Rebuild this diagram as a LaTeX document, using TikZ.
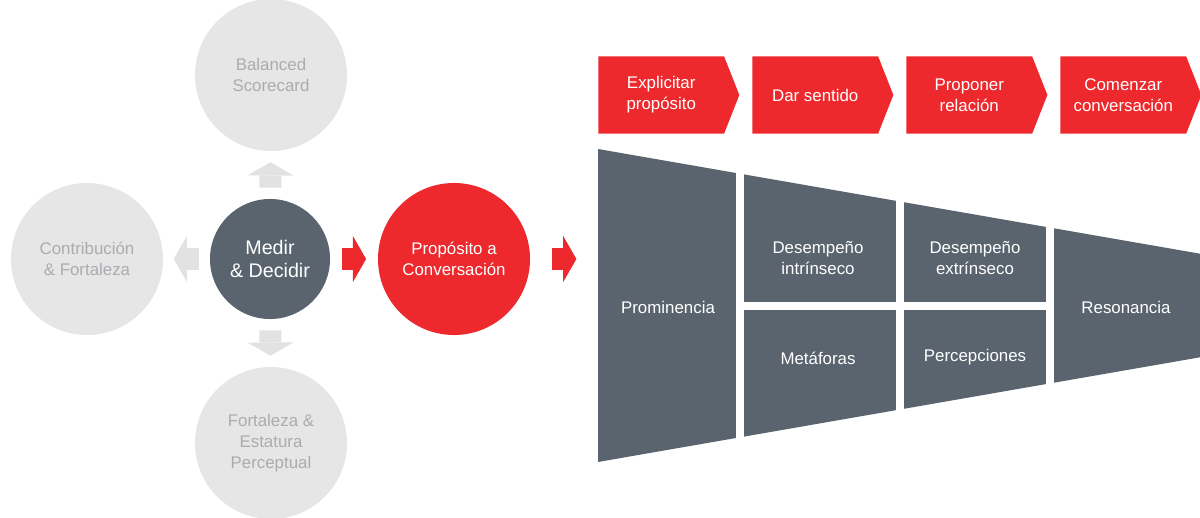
\documentclass[tikz,border=0pt]{standalone}
\usepackage{fontspec}
\setmainfont{Liberation Sans}
\usetikzlibrary{positioning, arrows.meta, shapes.symbols}
\definecolor{rojo}{RGB}{237,41,46}
\definecolor{pizarra}{RGB}{89,100,110}
\definecolor{grisclaro}{RGB}{230,230,230}
\definecolor{gristexto}{RGB}{170,172,176}
\definecolor{grisflecha}{RGB}{226,226,226}

\begin{document}
\begin{tikzpicture}[x=0.025cm, y=-0.025cm,
    txt/.style={font=\fontsize{12}{15}\selectfont, align=center},
    circgris/.style={circle, fill=grisclaro, minimum size=3.8cm, inner sep=0pt, txt, text=gristexto},
    flecha/.style={line width=0.55cm, -{Triangle[length=0.33cm, width=1.15cm, line width=0pt]}, shorten <=#1, shorten >=#1},
    flecha/.default=0.275cm,
    chevron/.style={signal, signal to=east, signal pointer angle=137, fill=rojo, text=white, minimum width=3.525cm, minimum height=1.925cm, inner sep=0pt, txt}]
    \useasboundingbox (0,0) rectangle (1200,518);
    % circulos
    \node [circgris] (bsc) at (271,75) {Balanced\\Scorecard};
    \node [circgris] (contrib) at (87,259) {Contribución\\\& Fortaleza};
    \node [circgris] (fort) at (271,443) {Fortaleza \&\\Estatura\\Perceptual};
    \node [circle, fill=pizarra, text=white, minimum size=3cm, inner sep=0pt, align=center, font=\fontsize{14}{16.5}\selectfont] (medir) at (270,259) {Medir\\\& Decidir};
    \node [circle, fill=rojo, text=white, minimum size=3.8cm, inner sep=0pt, txt] (prop) at (454,259) {Propósito a\\Conversación};
    \coordinate (embudo) at (598,259);
    % flechas
    \draw [flecha, grisflecha] (medir) -- (bsc);
    \draw [flecha=0.26cm, grisflecha] (medir) -- (contrib);
    \draw [flecha, grisflecha] (medir) -- (fort);
    \draw [flecha=0.29cm, rojo] (medir) -- (prop);
    \draw [flecha=0.54cm, rojo] (prop) -- (embudo);
    % pasos
    \node [chevron, anchor=west] (p1) at (598,95) {Explicitar\\propósito};
    \node [chevron, right=0.31cm of p1] (p2) {Dar sentido};
    \node [chevron, right=0.31cm of p2] (p3) {Proponer\\relación};
    \node [chevron, right=0.31cm of p3] (p4) {Comenzar\\conversación};
    % embudo
    \fill [pizarra] (598,149) -- (1200,253.7) -- (1200,357.3) -- (598,462) -- cycle;
    \foreach \x in {740,900,1050} { \draw [white, line width=0.2cm] (\x,140) -- (\x,470); }
    \draw [white, line width=0.2cm] (740,305.5) -- (1050,305.5);
    \node [txt, text=white] (prom) at (668,307) {Prominencia};
    \node [txt, text=white] (desint) at (818,258) {Desempeño\\intrínseco};
    \node [txt, text=white] (metaf) at (818,358) {Metáforas};
    \node [txt, text=white] (desext) at (975,258) {Desempeño\\extrínseco};
    \node [txt, text=white] (percep) at (975,357) {Percepciones};
    \node [txt, text=white] (reson) at (1126,307) {Resonancia};
\end{tikzpicture}
\end{document}
